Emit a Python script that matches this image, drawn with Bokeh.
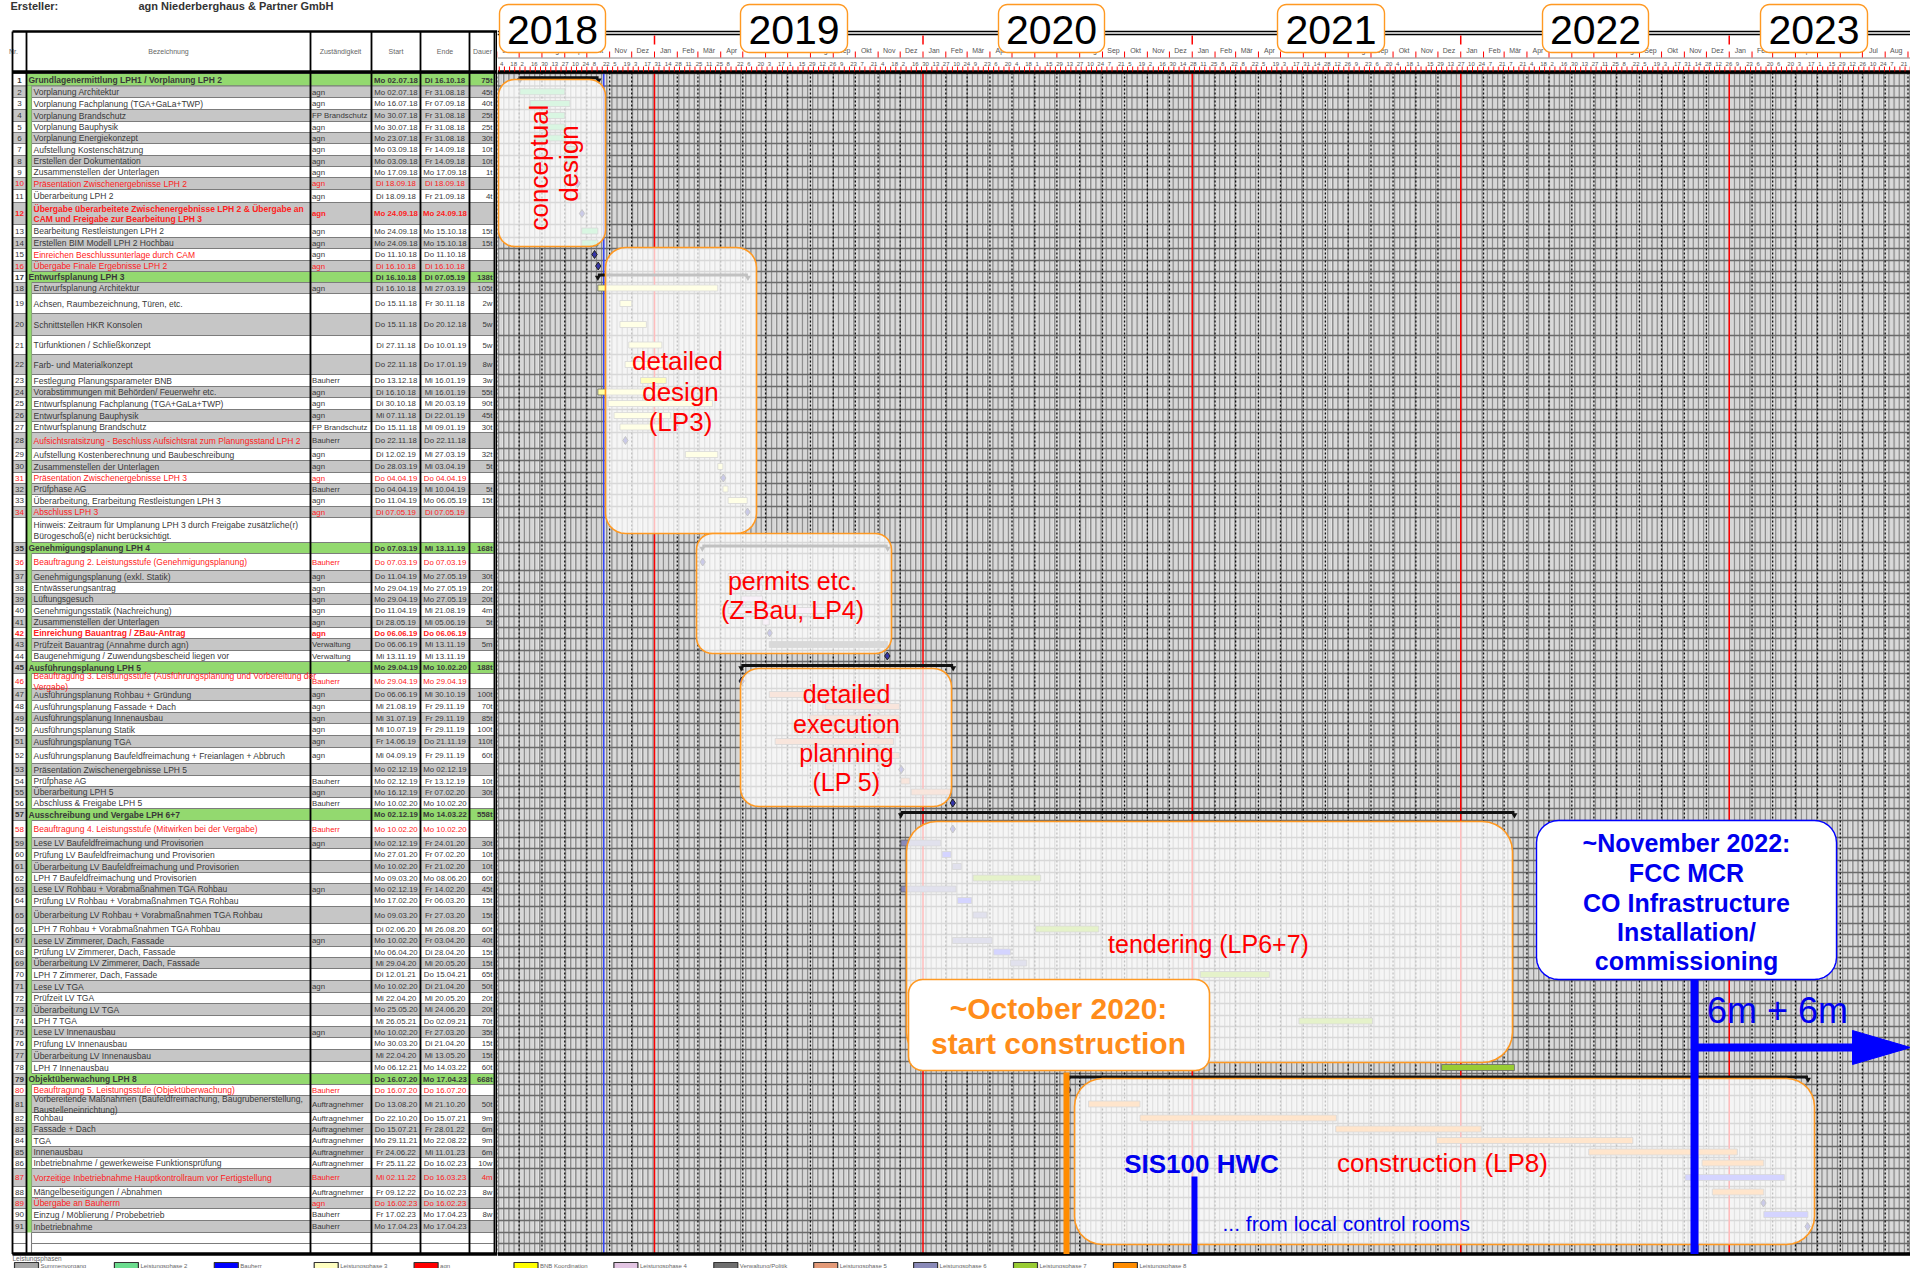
import numpy as np
import pandas as pd
from bokeh.plotting import figure
from bokeh.layouts import row as brow
from bokeh.models import Range1d
from bokeh.core.properties import value
from bokeh.embed import file_html
from bokeh.resources import INLINE

# ---------------- DATA ----------------
NR = [str(k) for k in range(1, 35)] + [""] + [str(k) for k in range(35, 92)] + ["", ""]

TASK = [
    "Grundlagenermittlung LPH1 / Vorplanung LPH 2", "Vorplanung Architektur",
    "Vorplanung Fachplanung (TGA+GaLa+TWP)", "Vorplanung Brandschutz", "Vorplanung Bauphysik",
    "Vorplanung Energiekonzept", "Aufstellung Kostenschätzung", "Erstellen der Dokumentation",
    "Zusammenstellen der Unterlagen", "Präsentation Zwischenergebnisse LPH 2", "Überarbeitung LPH 2",
    "Übergabe überarbeitete Zwischenergebnisse LPH 2 & Übergabe an\nCAM und Freigabe zur Bearbeitung LPH 3",
    "Bearbeitung Restleistungen LPH 2", "Erstellen BIM Modell LPH 2 Hochbau",
    "Einreichen Beschlussunterlage durch CAM", "Übergabe Finale Ergebnisse LPH 2",
    "Entwurfsplanung LPH 3", "Entwurfsplanung Architektur", "Achsen, Raumbezeichnung, Türen, etc.",
    "Schnittstellen HKR Konsolen", "Türfunktionen / Schließkonzept", "Farb- und Materialkonzept",
    "Festlegung Planungsparameter BNB", "Vorabstimmungen mit Behörden/ Feuerwehr etc.",
    "Entwurfsplanung Fachplanung (TGA+GaLa+TWP)", "Entwurfsplanung Bauphysik",
    "Entwurfsplanung Brandschutz",
    "Aufsichtsratsitzung - Beschluss Aufsichtsrat zum Planungsstand LPH 2",
    "Aufstellung Kostenberechnung und Baubeschreibung", "Zusammenstellen der Unterlagen",
    "Präsentation Zwischenergebnisse LPH 3", "Prüfphase AG",
    "Überarbeitung, Erarbeitung Restleistungen LPH 3", "Abschluss LPH 3",
    "Hinweis: Zeitraum für Umplanung LPH 3 durch Freigabe zusätzliche(r)\nBürogeschoß(e) nicht berücksichtigt.",
    "Genehmigungsplanung LPH 4", "Beauftragung 2. Leistungsstufe (Genehmigungsplanung)",
    "Genehmigungsplanung (exkl. Statik)", "Entwässerungsantrag", "Lüftungsgesuch",
    "Genehmigungsstatik (Nachreichung)", "Zusammenstellen der Unterlagen",
    "Einreichung Bauantrag / ZBau-Antrag", "Prüfzeit Bauantrag (Annahme durch agn)",
    "Baugenehmigung / Zuwendungsbescheid liegen vor", "Ausführungsplanung LPH 5",
    "Beauftragung 3. Leistungsstufe (Ausführungsplanung und Vorbereitung der\nVergabe)",
    "Ausführungsplanung Rohbau + Gründung", "Ausführungsplanung Fassade + Dach",
    "Ausführungsplanung Innenausbau", "Ausführungsplanung Statik", "Ausführungsplanung TGA",
    "Ausführungsplanung Baufeldfreimachung + Freianlagen + Abbruch",
    "Präsentation Zwischenergebnisse LPH 5", "Prüfphase AG", "Überarbeitung LPH 5",
    "Abschluss & Freigabe LPH 5", "Ausschreibung und Vergabe LPH 6+7",
    "Beauftragung 4. Leistungsstufe (Mitwirken bei der Vergabe)",
    "Lese LV Baufeldfreimachung und Provisorien", "Prüfung LV Baufeldfreimachung und Provisorien",
    "Überarbeitung LV Baufeldfreimachung und Provisorien", "LPH 7 Baufeldfreimachung und Provisorien",
    "Lese LV Rohbau +  Vorabmaßnahmen TGA Rohbau", "Prüfung LV Rohbau +  Vorabmaßnahmen TGA Rohbau",
    "Überarbeitung LV Rohbau +  Vorabmaßnahmen TGA Rohbau", "LPH 7 Rohbau +  Vorabmaßnahmen TGA Rohbau",
    "Lese LV Zimmerer, Dach, Fassade", "Prüfung LV Zimmerer, Dach, Fassade",
    "Überarbeitung LV Zimmerer, Dach, Fassade", "LPH 7 Zimmerer, Dach, Fassade",
    "Lese LV TGA", "Prüfzeit LV TGA", "Überarbeitung LV TGA", "LPH 7 TGA",
    "Lese LV Innenausbau", "Prüfung LV Innenausbau", "Überarbeitung LV Innenausbau",
    "LPH 7 Innenausbau", "Objektüberwachung LPH 8",
    "Beauftragung 5. Leistungsstufe (Objektüberwachung)",
    "Vorbereitende Maßnahmen (Baufeldfreimachung, Baugrubenerstellung,\nBaustelleneinrichtung)",
    "Rohbau", "Fassade + Dach", "TGA", "Innenausbau",
    "Inbetriebnahme / gewerkeweise Funktionsprüfung",
    "Vorzeitige Inbetriebnahme Hauptkontrollraum vor Fertigstellung",
    "Mängelbeseitigungen / Abnahmen", "Übergabe an Bauherrn",
    "Einzug / Möblierung / Probebetrieb", "Inbetriebnahme", "", "",
]

RESP = [
    "", "agn", "agn", "FP Brandschutz", "agn", "agn", "agn", "agn", "agn", "agn", "agn", "agn",
    "agn", "agn", "agn", "agn", "", "agn", "", "", "", "", "Bauherr", "agn", "agn", "agn",
    "FP Brandschutz", "Bauherr", "agn", "agn", "agn", "Bauherr", "agn", "agn", "", "",
    "Bauherr", "agn", "agn", "agn", "agn", "agn", "agn", "Verwaltung", "Verwaltung", "",
    "Bauherr", "agn", "agn", "agn", "agn", "agn", "agn", "", "Bauherr", "agn", "Bauherr", "",
    "Bauherr", "agn", "", "", "", "agn", "", "", "", "agn", "", "", "", "agn", "", "", "",
    "agn", "", "", "", "", "Bauherr", "Auftragnehmer", "Auftragnehmer", "Auftragnehmer",
    "Auftragnehmer", "Auftragnehmer", "Auftragnehmer", "Bauherr", "Auftragnehmer", "agn",
    "Bauherr", "Bauherr", "", "",
]

START = [
    "Mo 02.07.18", "Mo 02.07.18", "Mo 16.07.18", "Mo 30.07.18", "Mo 30.07.18", "Mo 23.07.18",
    "Mo 03.09.18", "Mo 03.09.18", "Mo 17.09.18", "Di 18.09.18", "Di 18.09.18", "Mo 24.09.18",
    "Mo 24.09.18", "Mo 24.09.18", "Do 11.10.18", "Di 16.10.18", "Di 16.10.18", "Di 16.10.18",
    "Do 15.11.18", "Do 15.11.18", "Di 27.11.18", "Do 22.11.18", "Do 13.12.18", "Di 16.10.18",
    "Di 30.10.18", "Mi 07.11.18", "Do 15.11.18", "Do 22.11.18", "Di 12.02.19", "Do 28.03.19",
    "Do 04.04.19", "Do 04.04.19", "Do 11.04.19", "Di 07.05.19", "", "Do 07.03.19",
    "Do 07.03.19", "Do 11.04.19", "Mo 29.04.19", "Mo 29.04.19", "Do 11.04.19", "Di 28.05.19",
    "Do 06.06.19", "Do 06.06.19", "Mi 13.11.19", "Mo 29.04.19", "Mo 29.04.19", "Do 06.06.19",
    "Mi 21.08.19", "Mi 31.07.19", "Mi 10.07.19", "Fr 14.06.19", "Mi 04.09.19", "Mo 02.12.19",
    "Mo 02.12.19", "Mo 16.12.19", "Mo 10.02.20", "Mo 02.12.19", "Mo 10.02.20", "Mo 02.12.19",
    "Mo 27.01.20", "Mo 10.02.20", "Mo 09.03.20", "Mo 02.12.19", "Mo 17.02.20", "Mo 09.03.20",
    "Di 02.06.20", "Mo 10.02.20", "Mo 06.04.20", "Mi 29.04.20", "Di 12.01.21", "Mo 10.02.20",
    "Mi 22.04.20", "Mo 25.05.20", "Mi 26.05.21", "Mo 10.02.20", "Mo 30.03.20", "Mi 22.04.20",
    "Mo 06.12.21", "Do 16.07.20", "Do 16.07.20", "Do 13.08.20", "Do 22.10.20", "Do 15.07.21",
    "Mo 29.11.21", "Fr 24.06.22", "Fr 25.11.22", "Mi 02.11.22", "Fr 09.12.22", "Do 16.02.23",
    "Fr 17.02.23", "Mo 17.04.23", "", "",
]

END = [
    "Di 16.10.18", "Fr 31.08.18", "Fr 07.09.18", "Fr 31.08.18", "Fr 31.08.18", "Fr 31.08.18",
    "Fr 14.09.18", "Fr 14.09.18", "Mo 17.09.18", "Di 18.09.18", "Fr 21.09.18", "Mo 24.09.18",
    "Mo 15.10.18", "Mo 15.10.18", "Do 11.10.18", "Di 16.10.18", "Di 07.05.19", "Mi 27.03.19",
    "Fr 30.11.18", "Do 20.12.18", "Do 10.01.19", "Do 17.01.19", "Mi 16.01.19", "Mi 16.01.19",
    "Mi 20.03.19", "Di 22.01.19", "Mi 09.01.19", "Do 22.11.18", "Mi 27.03.19", "Mi 03.04.19",
    "Do 04.04.19", "Mi 10.04.19", "Mo 06.05.19", "Di 07.05.19", "", "Mi 13.11.19",
    "Do 07.03.19", "Mo 27.05.19", "Mo 27.05.19", "Mo 27.05.19", "Mi 21.08.19", "Mi 05.06.19",
    "Do 06.06.19", "Mi 13.11.19", "Mi 13.11.19", "Mo 10.02.20", "Mo 29.04.19", "Mi 30.10.19",
    "Fr 29.11.19", "Fr 29.11.19", "Fr 29.11.19", "Do 21.11.19", "Fr 29.11.19", "Mo 02.12.19",
    "Fr 13.12.19", "Fr 07.02.20", "Mo 10.02.20", "Mo 14.03.22", "Mo 10.02.20", "Fr 24.01.20",
    "Fr 07.02.20", "Fr 21.02.20", "Mo 08.06.20", "Fr 14.02.20", "Fr 06.03.20", "Fr 27.03.20",
    "Mi 26.08.20", "Fr 03.04.20", "Di 28.04.20", "Mi 20.05.20", "Do 15.04.21", "Di 21.04.20",
    "Mi 20.05.20", "Mi 24.06.20", "Do 02.09.21", "Fr 27.03.20", "Di 21.04.20", "Mi 13.05.20",
    "Mo 14.03.22", "Mo 17.04.23", "Do 16.07.20", "Mi 21.10.20", "Do 15.07.21", "Fr 28.01.22",
    "Mo 22.08.22", "Mi 11.01.23", "Do 16.02.23", "Do 16.03.23", "Do 16.02.23", "Do 16.02.23",
    "Mo 17.04.23", "Mo 17.04.23", "", "",
]

DUR = [
    "75t", "45t", "40t", "25t", "25t", "30t", "10t", "10t", "1t", "", "4t", "", "15t", "15t",
    "", "", "138t", "105t", "2w", "5w", "5w", "8w", "3w", "55t", "90t", "45t", "30t", "",
    "32t", "5t", "", "5t", "15t", "", "", "168t", "", "30t", "20t", "20t", "4m", "5t", "",
    "5m", "", "188t", "", "100t", "70t", "85t", "100t", "110t", "60t", "", "10t", "30t", "",
    "558t", "", "30t", "10t", "10t", "60t", "45t", "15t", "15t", "60t", "40t", "15t", "15t",
    "65t", "50t", "20t", "20t", "70t", "35t", "15t", "15t", "60t", "668t", "", "50t", "9m",
    "6m", "9m", "6m", "10w", "4m", "8w", "", "8w", "", "", "",
]

# s=summary, n=normal, r=red, rb=red bold, rn=red name only, h=note/empty
STYLE = ["n"] * 94
for _i in (0, 16, 35, 45, 57, 79):
    STYLE[_i] = "s"
for _i in (9, 15, 30, 33, 36, 46, 58, 80, 87, 89):
    STYLE[_i] = "r"
for _i in (11, 42):
    STYLE[_i] = "rb"
for _i in (14, 27):
    STYLE[_i] = "rn"
for _i in (34, 92, 93):
    STYLE[_i] = "h"

PHASE = [
    "SUM", "LP2", "LP2", "LP2", "LP2", "LP2", "LP2", "LP2", "LP2", "MS", "LP2", "MS", "LP2",
    "LP2", "MS", "MS", "SUM", "LP3", "LP3", "LP3", "LP3", "LP3", "BNB", "LP3", "LP3", "LP3",
    "LP3", "MS", "LP3", "LP3", "MS", "LP3", "LP3", "MS", "-", "SUM", "MS", "LP4", "LP4", "LP4",
    "LP4", "LP4", "MS", "VER", "MS", "SUM", "MS", "LP5", "LP5", "LP5", "LP5", "LP5", "LP5",
    "MS", "LP5", "LP5", "MS", "SUM", "MS", "LP6", "BH", "LP6", "LP7", "LP6", "BH", "LP6", "LP7",
    "LP6", "BH", "LP6", "LP7", "LP6", "BH", "LP6", "LP7", "LP6", "BH", "LP6", "LP7", "SUM", "MS",
    "LP8", "LP8", "LP8", "LP8", "LP8", "LP8", "BH", "LP8", "MS", "BH", "MS", "-", "-",
]

LEG_LABELS = ["Summenvorgang", "Leistungsphase 2", "Bauherr", "Leistungsphase 3", "agn",
              "BNB Koordination", "Leistungsphase 4", "Verwaltung/Politik", "Leistungsphase 5",
              "Leistungsphase 6", "Leistungsphase 7", "Leistungsphase 8"]
LEG_COLORS = ["#a6a6a6", "#6bdc8e", "#0000ff", "#ffffc0", "#ff0000", "#ffff00", "#e2c4e2",
              "#6e6e6e", "#e39a78", "#8a8ab8", "#99cc33", "#ff8c00"]
BAR_COLORS = {"LP2": "#6bdc8e", "LP3": "#ffffa0", "BNB": "#ffff00", "LP4": "#e2c4e2",
              "VER": "#6e6e6e", "LP5": "#e39a78", "LP6": "#8a8ab8", "LP7": "#99cc33",
              "LP8": "#ff9a3c", "BH": "#5a5aff"}

MONTHS_DE = ["Jan", "Feb", "Mär", "Apr", "Mai", "Jun", "Jul", "Aug", "Sep", "Okt", "Nov", "Dez"]
YEARS = ["2018", "2019", "2020", "2021", "2022", "2023"]

# ---------------- LAYOUT ----------------
ROW_TOP = [73, 85.5, 97, 109, 121, 132, 143, 155, 166, 177, 189, 202, 224, 237, 248, 260, 271,
           282, 293, 313, 335, 354, 374, 386, 397, 409, 421, 432, 448, 460, 472, 483, 494, 506,
           517, 542, 553, 570, 582, 593, 604, 616, 627, 638, 650, 661, 673, 688, 700, 712, 723,
           735, 747, 763, 775, 786, 797, 808, 820, 837, 848, 860, 872, 883, 894, 906, 923, 934,
           946, 957, 968, 980, 992, 1003, 1015, 1026, 1037, 1049, 1061, 1073, 1084, 1095, 1112,
           1123, 1134, 1146, 1157, 1168, 1186, 1197, 1208, 1220, 1232, 1243, 1254]
NROWS = len(TASK)
FONT = "Liberation Sans"
GREEN = "#93d96f"
GRAYROW = "#c6c6c6"
DARK = "#383838"
RED = "#ff2020"
ORANGE = "#ff9922"
BLUE = "#0000ff"
BODY_TOP, BODY_BOT = 72, 1253.5
W_TOTAL, H_TOTAL = 1910, 1268
X_SPLIT = 497

PPD = 268.5 / 365.0
T0 = pd.Timestamp("2019-01-01")
X_T0 = 654.0
DAY = 86400000.0


def px2ms(px):
    return (T0 + pd.Timedelta(days=(px - X_T0) / PPD)).value / 1e6


def d2ms(ts):
    return pd.Timestamp(ts).value / 1e6


def pdate(s):
    return pd.to_datetime(s[3:], format="%d.%m.%y")


def mkfig(w, xr, **kw):
    p = figure(width=w, height=H_TOTAL, x_range=xr, y_range=Range1d(H_TOTAL, 0),
               output_backend="svg", toolbar_location=None, min_border=0, **kw)
    p.axis.visible = False
    p.grid.visible = False
    p.outline_line_color = None
    p.background_fill_color = "white"
    p.border_fill_color = "white"
    return p


def txt(p, xs, ys, texts, size, color, align="center", bold=False, angle=0.0, baseline="middle",
        line_height=1.2):
    p.text(x=list(xs), y=list(ys), text=list(texts), text_font=value(FONT),
           text_font_size=value(f"{size}px"), text_color=color, text_align=align,
           text_baseline=baseline, text_font_style="bold" if bold else "normal", angle=angle,
           text_line_height=line_height)


# ================= TABLE =================
tbl = mkfig(X_SPLIT, Range1d(0, X_SPLIT))

cl, cr, ct, cb, cc = [], [], [], [], []
for i in range(NROWS):
    t, b = ROW_TOP[i], ROW_TOP[i + 1]
    par = GRAYROW if (i % 2 == 1 and i < 92) else "#ffffff"
    st = STYLE[i]
    body = GREEN if st == "s" else par
    nl = 26 if st == "s" else 31
    for (l, r, c) in [(12, 26, par), (nl, 310, body), (310, 371, body), (371, 420, body),
                      (420, 469, body), (469, 494, body)]:
        cl.append(l); cr.append(r); ct.append(t); cb.append(b); cc.append(c)
tbl.quad(left=cl, right=cr, top=ct, bottom=cb, fill_color=cc, line_color="#7c7c7c", line_width=1.1)
tbl.quad(left=[26.5], right=[31], top=[ROW_TOP[1]], bottom=[ROW_TOP[92]], fill_color=GREEN,
         line_color=None)

# header
tbl.quad(left=[12], right=[494], top=[31], bottom=[71], fill_color="white", line_color=None)
txt(tbl, [13, 168, 340, 395.5, 444.5, 482], [51] * 6,
    ["Nr.", "Bezeichnung", "Zuständigkeit", "Start", "Ende", "Dauer"], 7, "#666666")
tbl.segment(x0=[12, 26, 310, 371, 420, 469, 494], y0=[31] * 7,
            x1=[12, 26, 310, 371, 420, 469, 494], y1=[BODY_BOT] * 7, line_color="black",
            line_width=1.8)
tbl.segment(x0=[496.5], y0=[31], x1=[496.5], y1=[BODY_BOT], line_color="black", line_width=2.5)
tbl.segment(x0=[12, 12, 12], y0=[31, 71.5, BODY_BOT], x1=[497, 497, 497],
            y1=[31, 71.5, BODY_BOT], line_color="black", line_width=[2.5, 3.5, 3.5])

txt(tbl, [10], [5.5], ["Ersteller:"], 11, "#333333", align="left", bold=True)
txt(tbl, [138], [5.5], ["agn Niederberghaus & Partner GmbH"], 11, "#333333", align="left", bold=True)

groups = {}


def add(x, y, t, c, bold, align, size):
    if not t:
        return
    d = groups.setdefault((bold, align, size), dict(x=[], y=[], t=[], c=[]))
    d["x"].append(x); d["y"].append(y); d["t"].append(t); d["c"].append(c)


for i in range(NROWS):
    yc = (ROW_TOP[i] + ROW_TOP[i + 1]) / 2 + 0.3
    st = STYLE[i]
    bold = st in ("s", "rb")
    allred = st in ("r", "rb")
    namered = allred or st == "rn"
    oc = RED if allred else DARK
    add(19, yc, NR[i], oc, bold, "center", 8.0)
    add(28 if st == "s" else 33, yc, TASK[i], RED if namered else DARK, bold, "left", 8.5)
    add(311.5, yc, RESP[i], oc, bold, "left", 7.8)
    add(395.5, yc, START[i], oc, bold, "center", 7.8)
    add(444.5, yc, END[i], oc, bold, "center", 7.8)
    add(492, yc, DUR[i], oc, bold, "right", 7.8)
for (bold, align, size), d in groups.items():
    txt(tbl, d["x"], d["y"], d["t"], size, d["c"], align=align, bold=bold, line_height=1.05)

# ================= GANTT =================
GX0, GX1 = px2ms(X_SPLIT), px2ms(W_TOTAL)
g = mkfig(W_TOTAL - X_SPLIT, Range1d(GX0, GX1), x_axis_type="datetime")

# calendar grid
days = pd.date_range("2018-05-28", "2023-09-10", freq="D")
wd = [d2ms(d) for d in days if d.weekday() < 5]
g.segment(x0=wd, y0=[BODY_TOP] * len(wd), x1=wd, y1=[BODY_BOT] * len(wd),
          line_color="#c2c2c2", line_width=0.6)
sats = pd.date_range("2018-05-26", "2023-09-09", freq="W-SAT")
g.quad(left=[d2ms(s) for s in sats], right=[d2ms(s) + 2 * DAY for s in sats],
       top=BODY_TOP, bottom=BODY_BOT, fill_color="#8e8e8e", line_color=None)
g.segment(x0=[GX0] * len(ROW_TOP), y0=ROW_TOP, x1=[GX1] * len(ROW_TOP), y1=ROW_TOP,
          line_color="#6a6a6a", line_width=1.4)
months = pd.date_range("2018-06-01", "2023-09-01", freq="MS")
mo = [d2ms(m) for m in months if m.month != 1]
g.segment(x0=mo, y0=[BODY_TOP] * len(mo), x1=mo, y1=[BODY_BOT] * len(mo),
          line_color="#111111", line_width=1.3, line_dash="2 2")
jan = [d2ms(m) for m in months if m.month == 1]
g.segment(x0=jan, y0=[BODY_TOP] * len(jan), x1=jan, y1=[BODY_BOT] * len(jan),
          line_color="#ff0000", line_width=1.5)
stat = d2ms("2018-10-24")
g.segment(x0=[stat], y0=[BODY_TOP], x1=[stat], y1=[BODY_BOT], line_color="#3344ff", line_width=1.5)

# bars
bl, br, bt, bb, bc = [], [], [], [], []
sl, sr, sy = [], [], []
mx, my = [], []
for i in range(NROWS):
    ph = PHASE[i]
    if ph == "-" or not START[i]:
        continue
    s, e = pdate(START[i]), pdate(END[i])
    yc = (ROW_TOP[i] + ROW_TOP[i + 1]) / 2
    if ph == "SUM":
        sl.append(d2ms(s)); sr.append(d2ms(e) + DAY); sy.append(yc - 2)
    elif ph == "MS":
        mx.append(d2ms(s) + DAY / 2); my.append(yc)
    else:
        bl.append(d2ms(s)); br.append(d2ms(e) + DAY); bt.append(yc - 3); bb.append(yc + 3)
        bc.append(BAR_COLORS[ph])
g.quad(left=bl, right=br, top=bt, bottom=bb, fill_color=bc, line_color="#6a6a6a", line_width=0.8)
g.quad(left=sl, right=sr, top=[y - 1.6 for y in sy], bottom=[y + 1.6 for y in sy],
       fill_color="#111111", line_color=None)
g.scatter(x=sl + sr, y=[y + 2.5 for y in sy] * 2, marker="inverted_triangle", size=6,
          fill_color="#111111", line_color=None)
g.scatter(x=mx, y=my, marker="diamond", size=8, fill_color="#3535a8", line_color="#222222")

# header
g.quad(left=[GX0], right=[GX1], top=[0], bottom=[71], fill_color="white", line_color=None)
g.segment(x0=[GX0, GX0, GX0], y0=[31, 34, 57.5], x1=[GX1, GX1, GX1], y1=[31, 34, 57.5],
          line_color=["black", "black", "#888888"], line_width=[1.6, 1.6, 1.0])
g.segment(x0=[GX0], y0=[71.5], x1=[GX1], y1=[71.5], line_color="black", line_width=3.5)
g.segment(x0=[GX0], y0=[BODY_BOT], x1=[GX1], y1=[BODY_BOT], line_color="black", line_width=3.5)
mall = [d2ms(m) for m in months]
g.segment(x0=mall, y0=[51] * len(mall), x1=mall, y1=[57] * len(mall), line_color="#ff0000",
          line_width=1)
g.segment(x0=jan, y0=[35] * len(jan), x1=jan, y1=[44] * len(jan), line_color="#ff0000",
          line_width=1.5)
mid = [d2ms(m + pd.Timedelta(days=15)) for m in months[:-1]]
txt(g, mid, [50] * len(mid), [MONTHS_DE[m.month - 1] for m in months[:-1]], 7, "#555555")
mondays = pd.date_range("2018-05-28", "2023-09-04", freq="W-MON")
mw = [d2ms(m) for m in mondays]
g.segment(x0=mw, y0=[66] * len(mw), x1=mw, y1=[71] * len(mw), line_color="#ff0000", line_width=1)
bi = pd.date_range("2018-06-04", "2023-08-28", freq="14D")
txt(g, [d2ms(m) + DAY for m in bi], [63] * len(bi), [str(m.day) for m in bi], 6, "#555555",
    align="left")


def rrect(x0, y0, x1, y1, r, n=8):
    xs, ys = [], []
    for cx, cy, a0, a1 in [(x1 - r, y0 + r, -90, 0), (x1 - r, y1 - r, 0, 90),
                           (x0 + r, y1 - r, 90, 180), (x0 + r, y0 + r, 180, 270)]:
        for a in np.radians(np.linspace(a0, a1, n)):
            xs.append(cx + r * np.cos(a)); ys.append(cy + r * np.sin(a))
    return xs, ys


def gbox(x0, y0, x1, y1, r, alpha, lc, lw=1.6):
    xs, ys = rrect(x0, y0, x1, y1, r)
    g.patch([px2ms(x) for x in xs], ys, fill_color="white", fill_alpha=alpha, line_color=lc,
            line_width=lw)


def gt(xs, ys, texts, size, color, align="center", bold=False, angle=0.0):
    txt(g, [px2ms(x) for x in xs], ys, texts, size, color, align=align, bold=bold, angle=angle)


# year boxes
YB = [(499, 605), (740, 847), (998, 1104), (1277, 1384), (1542, 1648), (1760, 1867)]
for (x0, x1), yr in zip(YB, YEARS):
    gbox(x0, 4, x1, 52, 9, 1.0, ORANGE, 1.4)
    gt([(x0 + x1) / 2], [29], [yr], 41, "black")

# phase annotation boxes (semi-transparent)
A = 0.74
gbox(498, 79, 605, 246, 16, A, ORANGE)
gbox(605, 247, 756, 533, 20, A, ORANGE)
gbox(696, 533, 891, 653, 16, A, ORANGE)
gbox(740, 668, 951, 806, 18, A, ORANGE)
gbox(906, 821, 1512, 1062, 30, A, ORANGE)
gbox(1074, 1078, 1814, 1244, 28, A, ORANGE)

gt([538], [167], ["conceptual"], 26, "#ff0000", angle=np.pi / 2)
gt([568], [163], ["design"], 26, "#ff0000", angle=np.pi / 2)
gt([677, 680, 680], [360, 391, 421], ["detailed", "design", "(LP3)"], 26, "#ff0000")
gt([792, 792], [580, 609], ["permits etc.", "(Z-Bau, LP4)"], 25, "#ff0000")
gt([846] * 4, [693, 723, 752, 781], ["detailed", "execution", "planning", "(LP 5)"], 25, "#ff0000")
gt([1208], [943], ["tendering (LP6+7)"], 25, "#ff0000")
gt([1442], [1162], ["construction (LP8)"], 26, "#ff0000")

# opaque callouts
gbox(908, 979, 1209, 1070, 14, 1.0, ORANGE)
gt([1058, 1058], [1008, 1043], ["~October 2020:", "start construction"], 30, "#ff8c1a", bold=True)
gbox(1536, 820, 1836, 979, 22, 1.0, BLUE, 1.4)
gt([1686] * 5, [842, 872, 902, 931, 960],
   ["~November 2022:", "FCC MCR", "CO Infrastructure", "Installation/", "commissioning"],
   25, "#0000ee", bold=True)

# marker lines and arrow
g.segment(x0=[px2ms(1066)], y0=[1072], x1=[px2ms(1066)], y1=[BODY_BOT], line_color="#ff8c00",
          line_width=6)
g.segment(x0=[px2ms(1194)], y0=[1176], x1=[px2ms(1194)], y1=[BODY_BOT], line_color=BLUE,
          line_width=6)
g.segment(x0=[px2ms(1694)], y0=[979], x1=[px2ms(1694)], y1=[BODY_BOT], line_color=BLUE,
          line_width=8)
g.segment(x0=[px2ms(1694)], y0=[1047], x1=[px2ms(1856)], y1=[1047], line_color=BLUE,
          line_width=8)
g.patch([px2ms(1852), px2ms(1852), px2ms(1910)], [1030, 1064, 1047], fill_color=BLUE,
        line_color=BLUE)
gt([1777], [1010], ["6m + 6m"], 36, "#0000ee")
gt([1201], [1163], ["SIS100 HWC"], 26, "#0000ee", bold=True)
gt([1222], [1223], ["... from local control rooms"], 21, "#0000ee", align="left")

# legend
txt(tbl, [12], [1257.5], ["Leistungsphasen"], 6.5, "#666666", align="left")
for k, (lab, col) in enumerate(zip(LEG_LABELS, LEG_COLORS)):
    x0 = 14 + 99.9 * k
    if x0 + 24 < X_SPLIT:
        tbl.quad(left=[x0], right=[x0 + 24], top=[1262], bottom=[1270], fill_color=col,
                 line_color="#333333", line_width=1.2)
        txt(tbl, [x0 + 26], [1265.5], [lab], 6, "#666666", align="left")
    else:
        g.quad(left=[px2ms(x0)], right=[px2ms(x0 + 24)], top=[1262], bottom=[1270],
               fill_color=col, line_color="#333333", line_width=1.2)
        gt([x0 + 26], [1265.5], [lab], 6, "#666666", align="left")

layout = brow(tbl, g, spacing=0)
open("out.html", "w").write(file_html(layout, INLINE))
